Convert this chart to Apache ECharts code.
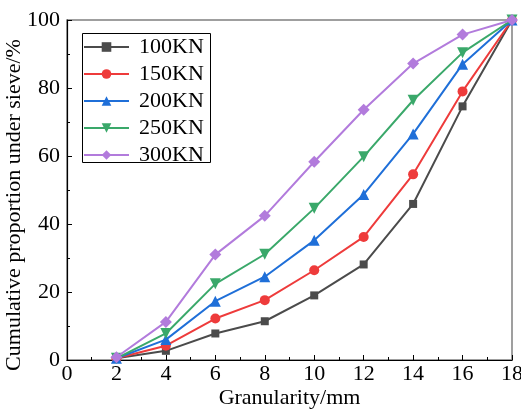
<!DOCTYPE html>
<html><head><meta charset="utf-8">
<script src="https://cdn.jsdelivr.net/npm/echarts@6/dist/echarts.min.js"></script>
<style>html,body{margin:0;padding:0;background:#fff}#c{width:521px;height:411px}</style>
</head><body><div id="c"></div>
<script>
var granularity = [2, 4, 6, 8, 10, 12, 14, 16, 18];
var s100 = [0.5, 2.7, 7.8, 11.4, 19.0, 28.1, 45.9, 74.6, 100];
var s150 = [0.5, 4.2, 12.2, 17.6, 26.4, 36.2, 54.6, 79.0, 100];
var s200 = [0.5, 6.0, 17.3, 24.5, 35.2, 48.7, 66.5, 87.0, 100];
var s250 = [0.5, 7.8, 22.4, 31.1, 44.6, 59.8, 76.4, 90.4, 100];
var s300 = [0.8, 11.2, 31.0, 42.4, 58.3, 73.6, 87.2, 95.7, 100];
var names = ['100KN', '150KN', '200KN', '250KN', '300KN'];
var colors = ['#4b4b4b', '#ee3b3b', '#1f6fd8', '#3aa86a', '#b27bdc'];
var symbols = ['rect', 'circle', 'triangle', 'triangle', 'diamond'];
var sizes = [8, 10, 11, 11, 12];
var rots = [0, 0, 0, 180, 0];
var values = [s100, s150, s200, s250, s300];
var font = 'Liberation Serif, Times New Roman, serif';

var series = names.map(function (n, i) {
  return {
    name: n, type: 'line',
    data: granularity.map(function (g, j) { return [g, values[i][j]]; }),
    symbol: symbols[i], symbolSize: sizes[i], symbolRotate: rots[i],
    showAllSymbol: true,
    lineStyle: { color: colors[i], width: 2 },
    itemStyle: { color: colors[i] },
    z: 2 + i
  };
});

var chart = echarts.init(document.getElementById('c'));
chart.setOption({
  animation: false,
  textStyle: { fontFamily: font },
  grid: { left: 67, right: 9, top: 20, bottom: 51, containLabel: false, outerBoundsMode: 'none',
          show: true, borderColor: '#808080', borderWidth: 1.5, backgroundColor: 'transparent' },
  graphic: [{
    type: 'rect', left: 80, top: 31, z: 1,
    shape: { width: 128, height: 129 },
    style: { fill: 'none', stroke: '#000', lineWidth: 1 }
  }],
  legend: {
    left: 80, top: 31, orient: 'vertical',
    itemWidth: 45, itemHeight: 12, itemGap: 5,
    padding: [5, 6, 0, 3],
    textStyle: { fontFamily: font, fontSize: 22, color: '#000', padding: [0, 0, 0, 5] },
    data: names
  },
  xAxis: {
    type: 'value', min: 0, max: 18, interval: 2,
    name: 'Granularity/mm', nameLocation: 'middle', nameGap: 27, nameMoveOverlap: false,
    nameTextStyle: { fontFamily: font, fontSize: 22, color: '#000' },
    axisLine: { lineStyle: { color: '#000', width: 1.2 } },
    axisTick: { inside: true, length: 5, lineStyle: { color: '#000' } },
    minorTick: { show: true, splitNumber: 2, length: 3, lineStyle: { color: '#000' } },
    axisLabel: { fontFamily: font, fontSize: 22, color: '#000', margin: 3 },
    splitLine: { show: false }
  },
  yAxis: {
    type: 'value', min: 0, max: 100, interval: 20,
    name: 'Cumulative proportion under sieve/%', nameLocation: 'middle', nameGap: 42, nameMoveOverlap: false,
    nameTextStyle: { fontFamily: font, fontSize: 22, color: '#000', padding: [0, 30, 0, 0] },
    axisLine: { show: true, lineStyle: { color: '#000', width: 1.2 } },
    axisTick: { show: true, inside: true, length: 5, lineStyle: { color: '#000' } },
    minorTick: { show: true, splitNumber: 2, length: 3, lineStyle: { color: '#000' } },
    axisLabel: { fontFamily: font, fontSize: 22, color: '#000', margin: 7 },
    splitLine: { show: false }
  },
  series: series
});
</script></body></html>
